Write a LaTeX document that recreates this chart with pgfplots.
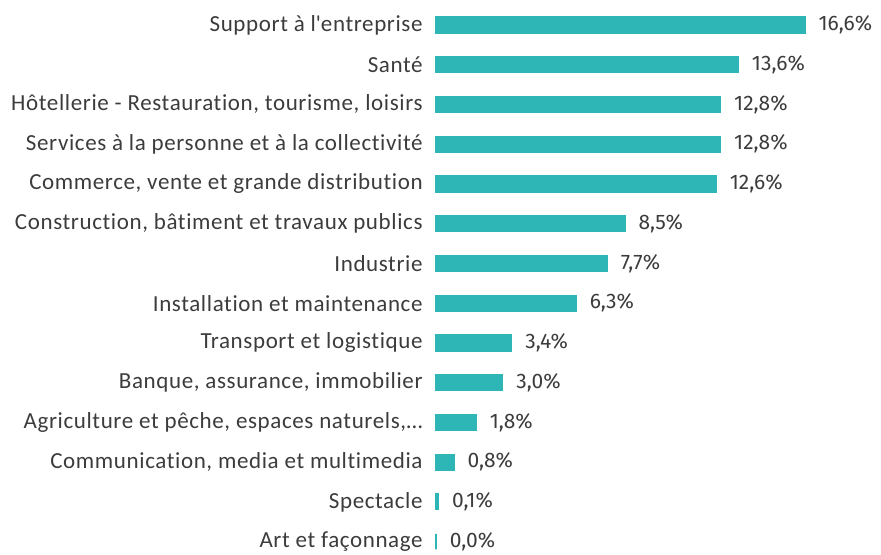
\documentclass[border=0pt]{standalone}
\usepackage{pgfplots}
\pgfplotsset{compat=1.18}
\usetikzlibrary{calc}
\usepackage{fontspec}
\setmainfont[Ligatures={NoCommon},LetterSpace=2.7]{Carlito}
\newfontfamily\valfont{Fira Sans}
\definecolor{barteal}{HTML}{2EB5B5}
\definecolor{txt}{HTML}{3C3C3C}
\begin{document}
\begin{tikzpicture}
\begin{axis}[
  x=11.11pt, y=19.87pt,
  y dir=reverse,
  xmin=0, xmax=16.6,
  ymin=-0.5, ymax=13.5,
  axis line style={draw=none},
  tick style={draw=none},
  xtick=\empty,
  ytick={0,...,13},
  /pgf/number format/assume math mode=true,
  yticklabels={Support à l\textquotesingle entreprise,Santé,{Hôtellerie - Restauration, tourisme, loisirs},Services à la personne et à la collectivité,{Commerce, vente et grande distribution},{Construction, bâtiment et travaux publics},Industrie,Installation et maintenance,Transport et logistique,{Banque, assurance, immobilier},{Agriculture et pêche, espaces naturels,\dots},{Communication, media et multimedia},Spectacle,Art et façonnage},
  yticklabel style={font=\fontsize{11.5}{13}\selectfont, text=txt, anchor=east, inner sep=0pt, xshift=-6.5pt},
  clip=false,
  enlargelimits=false,
]
\addplot[xbar, bar width=7.8pt, fill=barteal, draw=barteal, line width=0.8pt,
  nodes near coords={\pgfmathprintnumber[fixed,fixed zerofill,precision=1,use comma,assume math mode=true]{\pgfplotspointmeta}\%},
  point meta=x,
  every node near coord/.append style={font=\valfont\fontsize{10.5}{12}\selectfont, text=txt, anchor=west, inner sep=0pt, xshift=6.5pt}]
coordinates {
(16.6,0) (13.6,1) (12.8,2) (12.8,3) (12.6,4) (8.5,5) (7.7,6) (6.3,7) (3.4,8) (3.0,9) (1.8,10) (0.8,11) (0.1,12) (0.0,13)
};
\coordinate (o) at (axis cs:0,0);
\coordinate (e) at (axis cs:0,13);
\end{axis}
\pgfresetboundingbox
\path[use as bounding box] ($(o)+(-218pt,12.5pt)$) rectangle ($(e)+(222.5pt,-6.25pt)$);
\end{tikzpicture}
\end{document}
